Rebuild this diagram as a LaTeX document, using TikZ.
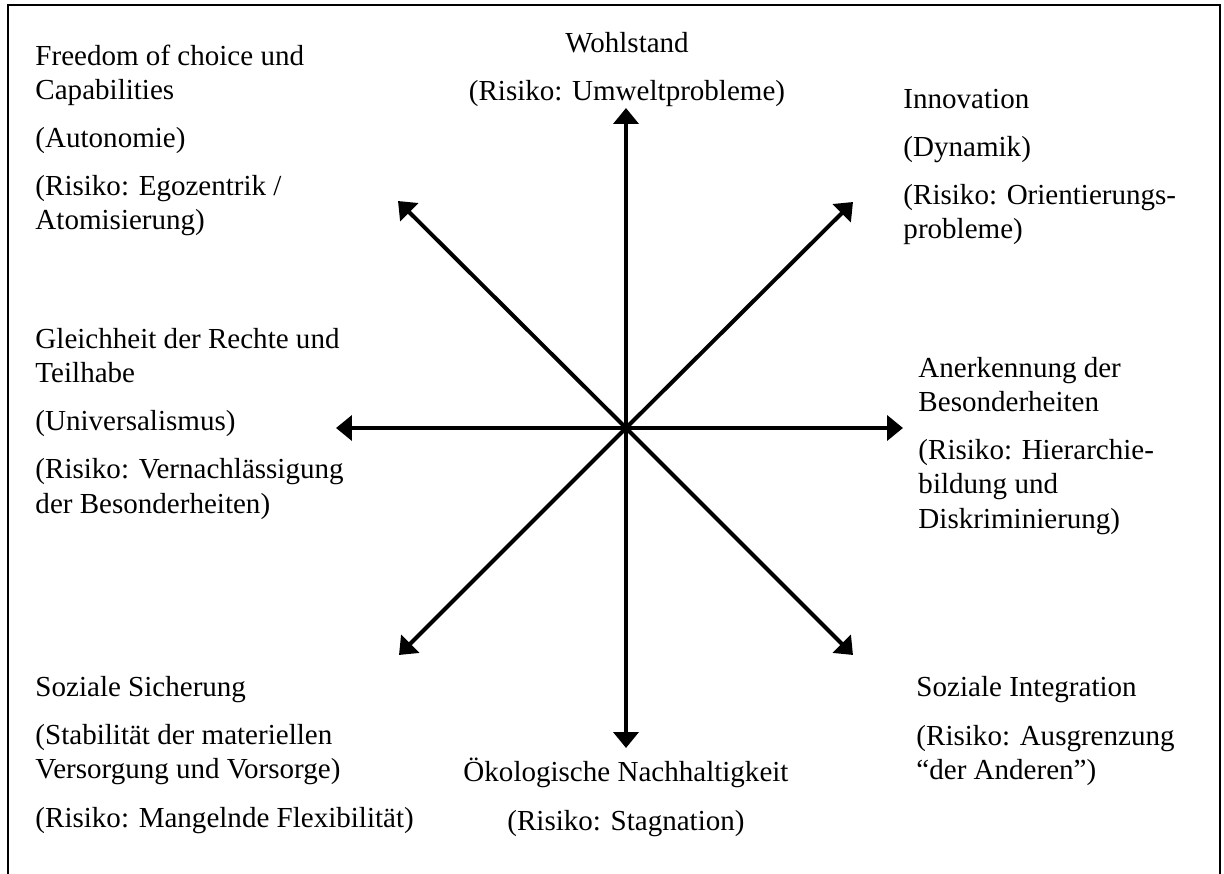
\documentclass[tikz,border=0pt]{standalone}
\usepackage{fontspec}
\setmainfont{Liberation Serif}
\usetikzlibrary{arrows.meta}
\begin{document}
\begin{tikzpicture}[x=0.4132pt,y=-0.4132pt,
  lbl/.style={inner sep=0pt,align=left,anchor=base west,font=\fontsize{12}{14.05}\selectfont},
  clbl/.style={inner sep=0pt,align=center,anchor=base,font=\fontsize{12}{14.05}\selectfont},
  axis/.style={line width=1.65pt,-{Triangle[length=6.6pt,width=10.3pt]}},
  frame/.style={line width=0.9pt}]
\useasboundingbox (0,0) rectangle (1224,874);
\draw[frame] (8,874) -- (8,5) -- (1220,5) -- (1220,874);
\coordinate (c) at (626,428);
\coordinate (eU) at (626,108);
\coordinate (eD) at (626,748);
\coordinate (eL) at (336,428);
\coordinate (eR) at (903,428);
\coordinate (eUL) at (398,201);
\coordinate (eUR) at (853,202);
\coordinate (eDL) at (399,655);
\coordinate (eDR) at (853,655);
\foreach \e in {eU,eD,eL,eR,eUL,eUR,eDL,eDR} \draw[axis] (c) -- (\e);
% base anchor = baseline of the last line
\node[lbl] (freedom) at (35,230) {Freedom of choice und\\Capabilities\\[5.8pt](Autonomie)\\[5.8pt](Risiko: Egozentrik /\\Atomisierung)};
\node[clbl] (wohl) at (627,101) {Wohlstand\\[5.8pt](Risiko: Umweltprobleme)};
\node[lbl] (innov) at (903,239) {Innovation\\[5.8pt](Dynamik)\\[5.8pt](Risiko: Orientierungs-\\probleme)};
\node[lbl] (gleich) at (35,513) {Gleichheit der Rechte und\\Teilhabe\\[5.8pt](Universalismus)\\[5.8pt](Risiko: Vernachlässigung\\der Besonderheiten)};
\node[lbl] (anerk) at (918,528) {Anerkennung der\\Besonderheiten\\[5.8pt](Risiko: Hierarchie-\\bildung und\\Diskriminierung)};
\node[lbl] (sicher) at (35,827) {Soziale Sicherung\\[5.8pt](Stabilität der materiellen\\Versorgung und Vorsorge)\\[5.8pt](Risiko: Mangelnde Flexibilität)};
\node[clbl] (oeko) at (626,830) {Ökologische Nachhaltigkeit\\[5.8pt](Risiko: Stagnation)};
\node[lbl] (integ) at (916,779) {Soziale Integration\\[5.8pt](Risiko: Ausgrenzung\\“der Anderen”)};
\end{tikzpicture}
\end{document}
